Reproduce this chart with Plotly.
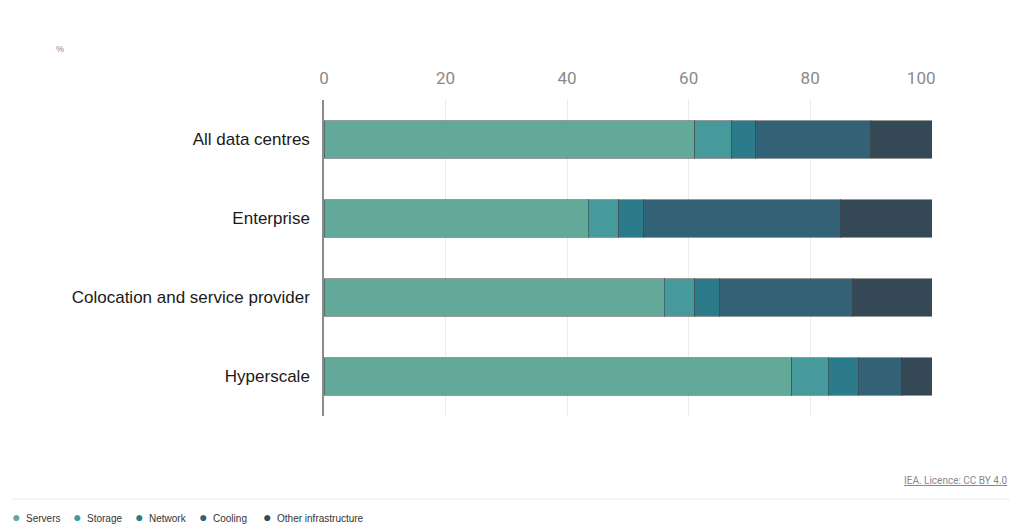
import plotly.graph_objects as go

categories = ["All data centres", "Enterprise", "Colocation and service provider", "Hyperscale"]
series_names = ["Servers", "Storage", "Network", "Cooling", "Other infrastructure"]
servers = [61, 43.5, 56, 77]
storage = [6, 5, 5, 6]
network = [4, 4, 4, 5]
cooling = [19, 32.5, 22, 7]
other = [10, 15, 13, 5]
colors = ["#63A99A", "#469A9B", "#2C7B8B", "#336175", "#344855"]
tick_vals = [0, 20, 40, 60, 80, 100]
tick_text = ["0", "20", "40", "60", "80", "100" + "&nbsp;" * 5]

W, H = 1024, 531
OFF = 8  # page body margin
L, T = 324 - OFF, 100 - OFF
pw, ph = 608, 316
R = W - L - pw
B = H - T - ph

def px(x):
    return (x - OFF - L) / pw

def py(y):
    return (T + ph - (y - OFF)) / ph

fig = go.Figure()
for name, vals, c in zip(series_names, [servers, storage, network, cooling, other], colors):
    fig.add_trace(go.Bar(
        y=categories, x=vals, name=name, orientation="h",
        marker=dict(color=c, line=dict(color="rgba(60,70,75,0.55)", width=1)),
        showlegend=False,
    ))

fig.update_layout(
    width=W, height=H,
    margin=dict(l=L, r=R, t=T, b=B),
    barmode="stack", bargap=0.52,
    plot_bgcolor="white", paper_bgcolor="white",
    xaxis=dict(
        side="top", range=[0, 100.05], tickvals=tick_vals, ticktext=tick_text,
        showgrid=True, gridcolor="#ebebeb", gridwidth=1, zeroline=False,
        tickfont=dict(family="Roboto", size=17, color="#8a8a8a"),
        ticks="", ticklabelstandoff=12, fixedrange=True,
    ),
    yaxis=dict(
        categoryorder="array", categoryarray=categories, autorange="reversed",
        showline=True, linecolor="#8c8c8c", linewidth=1.5,
        tickfont=dict(family="Liberation Sans", size=17, color="#1a1a1a"),
        ticks="", ticklabelstandoff=9, showgrid=False,
    ),
    font=dict(family="Liberation Sans"),
)

# unit label
fig.add_annotation(text="%", xref="paper", yref="paper", x=px(54), y=py(49),
                   xanchor="left", yanchor="middle", showarrow=False,
                   font=dict(size=9, color="#888888", family="Liberation Sans"))

# source
fig.add_annotation(text="<u>IEA. Licence: CC BY 4.0</u>", xref="paper", yref="paper",
                   x=px(1010), y=py(480), xanchor="right", yanchor="middle", showarrow=False,
                   font=dict(size=10, color="#888888", family="Roboto"))

# separator line
fig.add_shape(type="line", xref="paper", yref="paper", x0=px(12), x1=px(1010),
              y0=py(499), y1=py(499), line=dict(color="#ececec", width=1))

# legend as annotations
legend_x = [12, 73, 135, 199, 263]
for name, c, lx in zip(series_names, colors, legend_x):
    fig.add_annotation(
        text=f"<span style='color:{c};font-size:14px'>●</span>  {name}",
        xref="paper", yref="paper", x=px(lx - 2), y=py(517),
        xanchor="left", yanchor="middle", showarrow=False,
        font=dict(size=10, color="#333333", family="Liberation Sans"),
    )

fig.write_html("out.html")
